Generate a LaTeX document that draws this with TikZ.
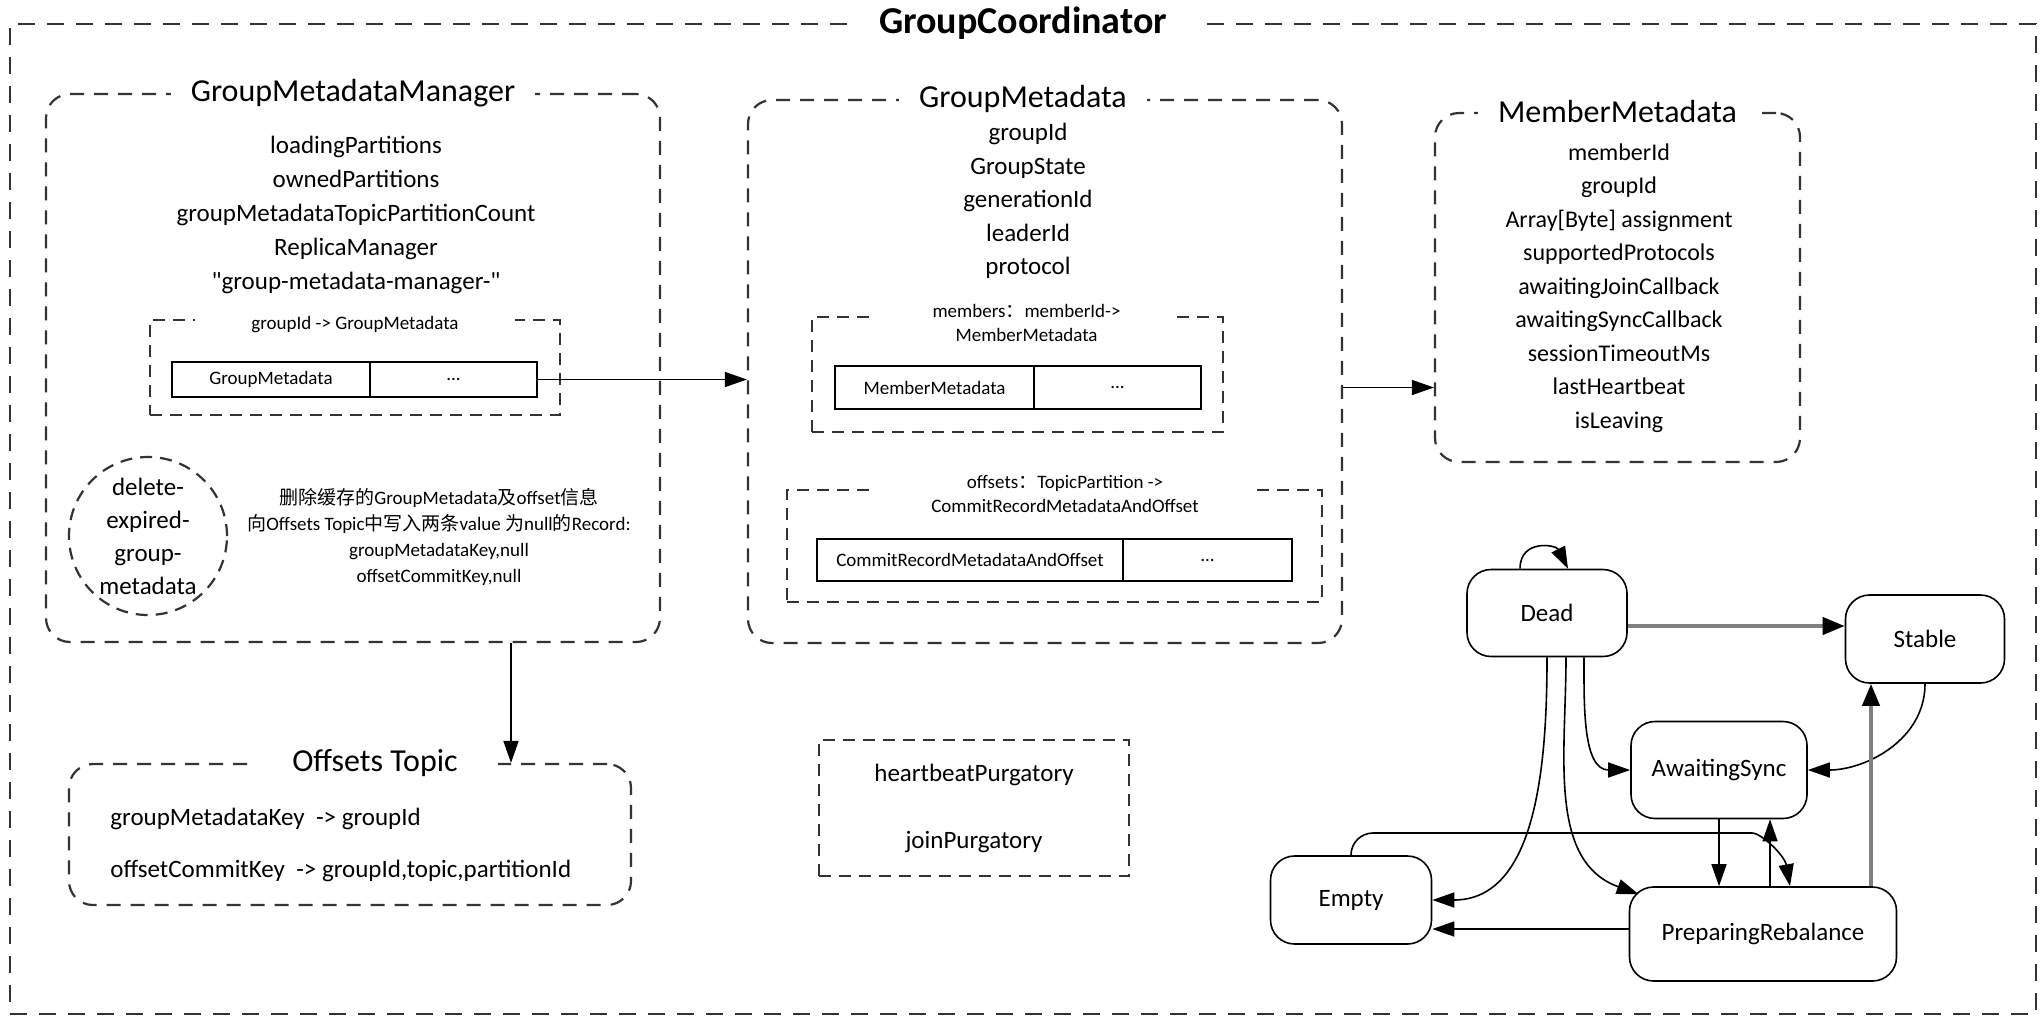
\documentclass[tikz,border=0pt]{standalone}
\usepackage{fontspec}
\setmainfont{Carlito}
\newfontfamily\cjk{Noto Sans CJK SC}
\usetikzlibrary{arrows.meta, positioning}

\begin{document}
\begin{tikzpicture}[
  x=0.5pt, y=-0.5pt,
  font=\fontsize{12.5}{17}\selectfont,
  outer/.style={draw=black!80, line width=1pt, dash pattern=on 8.5pt off 6pt, inner sep=0pt},
  frame/.style={draw=black!80, line width=1.1pt, dash pattern=on 7pt off 5pt, rounded corners=12pt, inner sep=0pt},
  sub/.style={draw=black!80, line width=1.1pt, dash pattern=on 6pt off 4pt, inner sep=0pt},
  ttl/.style={fill=white, inner xsep=10pt, inner ysep=1pt, font=\fontsize{16}{19}\selectfont},
  lbl/.style={fill=white, inner xsep=28pt, inner ysep=1pt, align=center, font=\fontsize{9.5}{12}\selectfont},
  cell/.style={draw, line width=1pt, inner sep=0pt, outer sep=0pt, minimum height=17.5pt, font=\fontsize{9.5}{12}\selectfont},
  st/.style={draw, line width=0.8pt, rounded corners=12pt, inner sep=0pt, font=\fontsize{12.5}{15}\selectfont},
  arr/.style={line width=0.8pt, -{Triangle[length=11pt,width=7.5pt]}},
  garr/.style={line width=2pt, draw=black!50, -{Triangle[length=11pt,width=8.5pt,color=black]}}
]
  \useasboundingbox (0,0) rectangle (2044,1024);

  \node[outer, minimum width=1013pt, minimum height=495pt] (GC) at (1023,519) {};
  \node[fill=white, inner xsep=14pt, inner ysep=1pt, font=\bfseries\fontsize{19}{22}\selectfont] at (GC.north) {GroupCoordinator};

  \node[frame, minimum width=307pt, minimum height=274pt] (GMM) at (353,368) {};
  \node[ttl] at (GMM.north) {GroupMetadataManager};
  \node[align=center] (GMMf) at (356,215) {loadingPartitions\\ownedPartitions\\groupMetadataTopicPartitionCount\\ReplicaManager\\\textquotedbl group-metadata-manager-\textquotedbl};
  \node[sub, minimum width=205pt, minimum height=47.5pt] (GMMmap) at (355,367.5) {};
  \node[lbl] at ([yshift=-3pt]GMMmap.north) {groupId -> GroupMetadata};
  \node[cell, minimum width=99pt] (GMl) at (271,379.5) {GroupMetadata};
  \node[cell, minimum width=83.5pt, right=0pt of GMl] (GMr) {...};
  \node[circle, draw=black!80, line width=1.1pt, dash pattern=on 6pt off 4pt, minimum size=79pt, inner sep=0pt, align=center, font=\fontsize{12.5}{16.5}\selectfont] (DEG) at (148,536) {delete-\\expired-\\group-\\metadata};
  \node[align=center, font=\fontsize{9.5}{12.9}\selectfont] (DEGtxt) at (439,537) {{\cjk 删除缓存的}GroupMetadata{\cjk 及}offset{\cjk 信息}\\{\cjk 向}Offsets Topic{\cjk 中写入两条}value {\cjk 为}null{\cjk 的}Record:\\groupMetadataKey,null\\offsetCommitKey,null};

  \node[frame, minimum width=297pt, minimum height=271.5pt] (GM) at (1045,371.5) {};
  \node[ttl] at ([xshift=-11pt]GM.north) {GroupMetadata};
  \node[align=center, font=\fontsize{12.5}{16.75}\selectfont] (GMf) at (1028,201) {groupId\\GroupState\\generationId\\leaderId\\protocol};
  \node[sub, minimum width=205.5pt, minimum height=57.5pt] (MBR) at (1017.5,374.5) {};
  \node[lbl] at ([xshift=4.5pt,yshift=-3.75pt]MBR.north) {members{\cjk ：}memberId->\\MemberMetadata};
  \node[cell, minimum width=99.5pt, minimum height=21.5pt] (MMl) at (934.5,387.5) {MemberMetadata};
  \node[cell, minimum width=83.5pt, minimum height=21.5pt, right=0pt of MMl] (MMr) {...};
  \node[sub, minimum width=267.5pt, minimum height=56pt] (OFS) at (1054.5,546) {};
  \node[lbl] at ([xshift=5.25pt,yshift=-2.75pt]OFS.north) {offsets{\cjk ：}TopicPartition ->\\CommitRecordMetadataAndOffset};
  \node[cell, minimum width=153pt, minimum height=21pt] (CRl) at (970,560) {CommitRecordMetadataAndOffset};
  \node[cell, minimum width=84.5pt, minimum height=21pt, right=0pt of CRl] (CRr) {...};

  \node[frame, minimum width=182.5pt, minimum height=174.5pt] (MM) at (1617.5,287.5) {};
  \node[ttl] at (MM.north) {MemberMetadata};
  \node[align=center, font=\fontsize{12}{16.75}\selectfont] (MMf) at (1619,288) {memberId\\groupId\\Array[Byte] assignment\\supportedProtocols\\awaitingJoinCallback\\awaitingSyncCallback\\sessionTimeoutMs\\lastHeartbeat\\isLeaving};

  \node[frame, minimum width=281pt, minimum height=70.5pt] (OT) at (350,834.5) {};
  \node[ttl, inner xsep=20pt] at ([xshift=12.5pt]OT.north) {Offsets Topic};
  \node[align=left, anchor=west, inner sep=0pt, font=\fontsize{12.5}{26}\selectfont] (OTf) at (110,845) {groupMetadataKey\ \ -> groupId\\offsetCommitKey\ \ -> groupId,topic,partitionId};

  \node[sub, minimum width=155pt, minimum height=68pt, align=center, font=\fontsize{12.5}{33.5}\selectfont] (PG) at (974,808) {heartbeatPurgatory\\joinPurgatory};

  \draw[arr] (GMr.east) -- (GMr.east -| GM.west);
  \draw[arr] (GM.east |- MMr.east) -- (MM.west |- MMr.east);
  \coordinate (gx) at (511,0);
  \draw[arr] (GMM.south -| gx) -- (OT.north -| gx);

  \node[st, minimum width=80pt, minimum height=43.5pt] (D) at (1547,613) {Dead};
  \node[st, minimum width=79.5pt, minimum height=44pt] (S) at (1925,639) {Stable};
  \node[st, minimum width=88pt, minimum height=48.5pt] (A) at (1719,770) {AwaitingSync};
  \node[st, minimum width=80.5pt, minimum height=44pt] (E) at (1351,900) {Empty};
  \node[st, minimum width=133.5pt, minimum height=47pt] (P) at (1763,934) {PreparingRebalance};

  \draw[arr] ([xshift=-13.5pt]D.north) .. controls +(0,15pt) and +(-6pt,12pt) .. ([xshift=10.5pt]D.north);
  \draw[garr] ([yshift=-6.5pt]D.east) -- ([yshift=-6.5pt]D.east -| S.west);
  \draw[arr] ([xshift=18.5pt]D.south) to[out=-90,in=180] (A.west);
  \draw[arr] (D.south) to[out=-90,in=0] (E.east);
  \draw[arr] ([xshift=9.5pt]D.south) to[out=-90,in=160] ([shift={(5pt,-4pt)}]P.north west);
  \draw[arr] (S.south) to[out=-90,in=0] (A.east);
  \draw[arr] (A.south) -- (A.south |- P.north);
  \draw[arr] ([xshift=25.5pt]A.south |- P.north) -- ([xshift=25.5pt]A.south);
  \draw[garr] ([xshift=-27pt]S.south |- P.north) -- ([xshift=-27pt]S.south);
  \coordinate (ep) at (1730,833);
  \draw[arr] (E.north) [rounded corners=11pt] |- (ep) [sharp corners] to[out=0,in=100] ([xshift=13.5pt]P.north);
  \draw[arr] ([yshift=2.5pt]P.west) -- ([yshift=2.5pt]P.west -| E.east);
\end{tikzpicture}
\end{document}
